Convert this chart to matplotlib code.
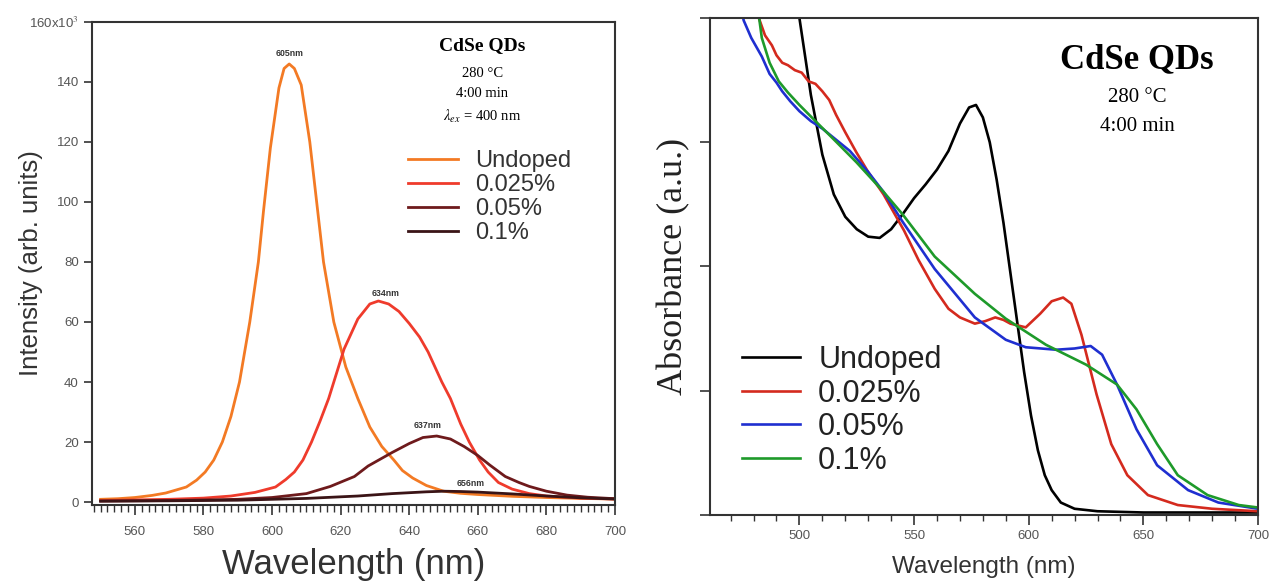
import numpy as np
import matplotlib
matplotlib.use("Agg")
import matplotlib.pyplot as plt
from matplotlib.ticker import MultipleLocator

plt.rcParams['font.family'] = ['Liberation Sans', 'DejaVu Sans']
plt.rcParams['mathtext.fontset'] = 'stix'

# ---------------- PL data (left) ----------------
pl_labels = ["Undoped", "0.025%", "0.05%", "0.1%"]
pl_colors = ["#f37a24", "#ef3b2c", "#6e1a1c", "#3a1416"]

wl_undoped = [550, 555, 560, 565, 569, 572, 575, 578, 580.5, 583, 585.5, 588, 590.5, 593.5, 596, 597.5,
              599.5, 602, 603.5, 605, 606.5, 608.5, 611, 613, 615, 618, 621.5, 625, 628.5, 632, 635.5,
              638, 641, 645, 650, 655, 660, 670, 680, 690, 700]
pl_undoped = [0.9, 1.1, 1.5, 2.2, 3.0, 4.0, 5.0, 7.3, 10, 14, 20, 28.5, 40, 60, 80, 97,
              118, 138, 144.5, 146, 144.5, 139, 120, 100, 80, 60, 45, 34.5, 25, 18.5, 14,
              10.5, 8, 5.5, 3.6, 2.9, 2.5, 1.9, 1.5, 1.2, 1.0]

wl_0025 = [550, 560, 570, 580, 588, 595, 601, 604, 606.5, 609, 611.5, 614, 616.5, 618, 621, 625, 628.5,
           631, 634, 637, 640, 643, 645.5, 647.5, 649.5, 652, 655, 657.5, 660.5, 663, 666, 670, 675,
           680, 690, 700]
pl_0025 = [0.5, 0.7, 0.9, 1.3, 2.0, 3.2, 5, 7.5, 10, 14, 20, 27, 34.5, 40, 51, 61, 66,
           67, 66, 63.5, 59.5, 55, 50, 45, 40, 34.5, 26, 20, 14, 10, 6.5, 4.3, 2.8,
           2.0, 1.3, 1.0]

wl_005 = [550, 570, 590, 600, 610, 617, 624, 628, 635, 640, 644, 648, 652, 656, 660, 663.5, 668, 672,
          675, 680, 686, 692, 700]
pl_005 = [0.3, 0.5, 0.9, 1.5, 2.8, 5.2, 8.5, 12, 16.5, 19.5, 21.5, 22, 21, 18.5, 15.5, 12.3, 8.5, 6.5,
          5.2, 3.6, 2.3, 1.6, 1.1]

wl_01 = [550, 570, 590, 610, 625, 635, 645, 650, 655, 660, 670, 680, 690, 700]
pl_01 = [0.3, 0.4, 0.6, 1.2, 2.0, 2.8, 3.4, 3.6, 3.5, 3.3, 2.7, 2.0, 1.4, 1.0]

pl_peak_text = ["605nm", "634nm", "637nm", "656nm"]
pl_peak_pos = [(605, 148), (633, 68), (645.3, 24), (658, 4.8)]

# ---------------- Absorbance data (right) ----------------
abs_labels = ["Undoped", "0.025%", "0.05%", "0.1%"]
abs_colors = ["#000000", "#d42a1e", "#1f2fd0", "#1e9a2a"]

wl_abs_undoped = [495, 500, 505, 510, 515, 520, 525, 530, 535, 540, 545, 550, 555, 560, 565, 570, 574,
                  577, 580, 583, 586, 589, 592, 595, 598, 601, 604, 607, 610, 614, 620, 630, 650, 700]
abs_undoped = [4.6, 4.0, 3.38, 2.9, 2.58, 2.4, 2.3, 2.24, 2.23, 2.3, 2.42, 2.55, 2.66, 2.78, 2.93, 3.15,
               3.28, 3.3, 3.2, 3.0, 2.7, 2.35, 1.95, 1.55, 1.15, 0.8, 0.52, 0.32, 0.2, 0.1, 0.05, 0.03,
               0.02, 0.02]

wl_abs_0025 = [480, 482.3, 485, 488, 490, 492.5, 495, 498, 501, 504, 507, 510, 513, 516, 520, 524.8,
               530, 536.7, 545.6, 552, 559, 565, 570, 576.5, 581, 585.4, 589, 592, 598.7, 605, 610,
               615, 618.6, 623, 629.6, 636, 643, 652, 665, 680, 700]
abs_0025 = [4.2, 4.0, 3.86, 3.78, 3.70, 3.64, 3.62, 3.58, 3.56, 3.49, 3.47, 3.41, 3.34, 3.22, 3.08, 2.92,
            2.76, 2.58, 2.29, 2.05, 1.82, 1.66, 1.59, 1.54, 1.56, 1.59, 1.57, 1.54, 1.51, 1.62, 1.72,
            1.75, 1.70, 1.45, 0.97, 0.57, 0.32, 0.16, 0.08, 0.05, 0.03]

wl_abs_005 = [472, 475.7, 479, 483.6, 487, 490, 492.5, 496, 500, 505, 510, 516, 522, 530, 536.7, 545,
              559, 576.5, 590, 598.7, 612, 620, 627, 632, 638.5, 647, 656, 669.5, 682.7, 700]
abs_005 = [4.3, 3.98, 3.84, 3.69, 3.55, 3.48, 3.41, 3.33, 3.25, 3.17, 3.11, 3.02, 2.93, 2.76, 2.60, 2.36,
           1.98, 1.59, 1.41, 1.35, 1.33, 1.34, 1.36, 1.29, 1.05, 0.69, 0.40, 0.20, 0.10, 0.05]

wl_abs_01 = [478, 482.3, 483.6, 487, 491, 495, 500, 507, 514.6, 524.8, 536.7, 545, 559, 576.5, 590,
             607.5, 625, 638.5, 647, 656, 665, 678, 691.6, 700]
abs_01 = [4.4, 4.02, 3.84, 3.64, 3.49, 3.40, 3.30, 3.17, 3.03, 2.84, 2.60, 2.42, 2.08, 1.78, 1.58,
          1.37, 1.21, 1.05, 0.85, 0.57, 0.32, 0.16, 0.08, 0.06]

# ---------------- Figure ----------------
fig = plt.figure(figsize=(12.71, 5.86), dpi=100)
axL = fig.add_axes([0.0724, 0.1382, 0.4115, 0.8243])
axR = fig.add_axes([0.5586, 0.1212, 0.4312, 0.8481])

spine_col = "#333333"
tick_col = "#555555"

# Left plot
pl_x = [wl_undoped, wl_0025, wl_005, wl_01]
pl_y = [pl_undoped, pl_0025, pl_005, pl_01]
for x, y, c, lab in zip(pl_x, pl_y, pl_colors, pl_labels):
    axL.plot(x, y, color=c, lw=2.0, label=lab, solid_joinstyle='round')
for t, (px, py) in zip(pl_peak_text, pl_peak_pos):
    axL.text(px, py, t, fontsize=6.3, fontweight='bold', color='#333333', ha='center', va='bottom')

axL.set_xlim(547.5, 700)
axL.set_ylim(-1, 160)
axL.xaxis.set_major_locator(MultipleLocator(20))
axL.xaxis.set_minor_locator(MultipleLocator(2))
axL.set_yticks([0, 20, 40, 60, 80, 100, 120, 140, 160])
axL.set_yticklabels(["0", "20", "40", "60", "80", "100", "120", "140", "160x10$^3$"])
axL.tick_params(axis='y', which='major', direction='out', length=6, width=1.2,
                color=spine_col, labelsize=9.5, labelcolor=tick_col)
axL.tick_params(axis='x', which='major', direction='out', length=7, width=1.2, pad=8,
                color=spine_col, labelsize=9.5, labelcolor=tick_col)
axL.tick_params(axis='x', which='minor', direction='out', length=5, width=1.0, color=spine_col)
for s in axL.spines.values():
    s.set_color(spine_col)
    s.set_linewidth(1.5)
axL.set_xlabel("Wavelength (nm)", fontsize=25, color='#333333')
axL.xaxis.set_label_coords(0.5, -0.088)
axL.set_ylabel("Intensity (arb. units)", fontsize=18.5, color='#333333')
axL.yaxis.set_label_coords(-0.094, 0.5)

tx = 0.746
axL.text(tx, 0.952, "CdSe QDs", transform=axL.transAxes, ha='center', va='center',
         fontsize=14, fontweight='bold', family='Liberation Serif')
axL.text(tx, 0.894, "280 °C", transform=axL.transAxes, ha='center', va='center',
         fontsize=10.5, family='Liberation Serif')
axL.text(tx, 0.851, "4:00 min", transform=axL.transAxes, ha='center', va='center',
         fontsize=10.5, family='Liberation Serif')
axL.text(tx, 0.805, r"$\lambda_{ex}$ = 400 nm", transform=axL.transAxes, ha='center', va='center',
         fontsize=10.5, family='Liberation Serif')
legL = axL.legend(loc='upper left', bbox_to_anchor=(0.604, 0.734), frameon=False, fontsize=17,
                  handlelength=2.1, handletextpad=0.75, labelspacing=0.085, borderaxespad=0,
                  borderpad=0)
for t in legL.get_texts():
    t.set_color('#333333')

# Right plot
abs_x = [wl_abs_undoped, wl_abs_0025, wl_abs_005, wl_abs_01]
abs_y = [abs_undoped, abs_0025, abs_005, abs_01]
for x, y, c, lab in zip(abs_x, abs_y, abs_colors, abs_labels):
    axR.plot(x, y, color=c, lw=1.9, label=lab, solid_joinstyle='round')
axR.set_xlim(461, 700)
axR.set_ylim(0, 4)
axR.xaxis.set_major_locator(MultipleLocator(50))
axR.xaxis.set_minor_locator(MultipleLocator(10))
axR.set_xticks([500, 550, 600, 650, 700])
axR.set_yticks([0, 1, 2, 3, 4])
axR.set_yticklabels([])
axR.tick_params(axis='both', which='major', direction='out', length=7, width=1.2,
                color=spine_col, labelsize=9.5, labelcolor=tick_col)
axR.tick_params(axis='x', which='minor', direction='out', length=4.5, width=1.0, color=spine_col)
for s in axR.spines.values():
    s.set_color(spine_col)
    s.set_linewidth(1.5)
axR.set_xlabel("Wavelength (nm)", fontsize=17.5, color='#333333')
axR.xaxis.set_label_coords(0.5, -0.083)
axR.set_ylabel("Absorbance (a.u.)", fontsize=26, family='Liberation Serif', color='#222222')
axR.yaxis.set_label_coords(-0.036, 0.5)

rx = 0.779
axR.text(rx, 0.9155, "CdSe QDs", transform=axR.transAxes, ha='center', va='center',
         fontsize=25, fontweight='bold', family='Liberation Serif')
axR.text(rx, 0.841, "280 °C", transform=axR.transAxes, ha='center', va='center',
         fontsize=15, family='Liberation Serif')
axR.text(rx, 0.781, "4:00 min", transform=axR.transAxes, ha='center', va='center',
         fontsize=15, family='Liberation Serif')
legR = axR.legend(loc='upper left', bbox_to_anchor=(0.058, 0.342), frameon=False, fontsize=22,
                  handlelength=1.9, handletextpad=0.6, labelspacing=0.115, borderaxespad=0,
                  borderpad=0)
for t in legR.get_texts():
    t.set_color('#222222')

fig.savefig("out.png", dpi=100)
